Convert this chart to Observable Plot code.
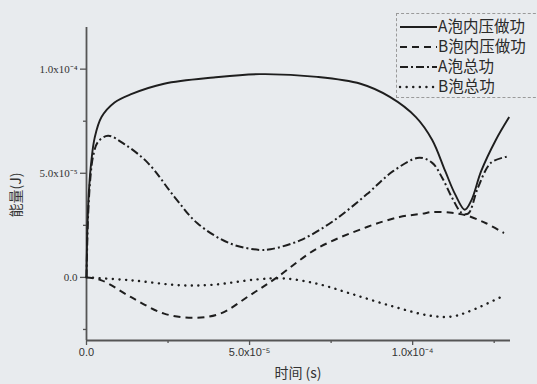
<!DOCTYPE html>
<html>
<head>
<meta charset="utf-8">
<script src="https://cdn.jsdelivr.net/npm/d3@7"></script>
<script src="https://cdn.jsdelivr.net/npm/@observablehq/plot@0.6"></script>
<style>
  html, body { margin: 0; padding: 0; background: #e8ebee; }
  #wrap { position: relative; width: 537px; height: 384px; overflow: hidden; }
  .lbl { position: absolute; font-family: "Noto Sans CJK SC", "Liberation Sans", sans-serif; color: #333; white-space: nowrap; }
  #legend { position: absolute; left: 396px; top: 13px; width: 150px; height: 85px; border: 1px dashed #9a9a9a; box-sizing: border-box; }
</style>
</head>
<body>
<div id="wrap"></div>
<script>
// time in units of 1e-6 s, energy in units of 1e-6 J
const seriesNames = ["A泡内压做功", "B泡内压做功", "A泡总功", "B泡总功"];

const tA_press = [0, 0.3, 0.8, 1.5, 2.5, 4.6, 8.6, 13.7, 23.8, 39, 53, 70.7, 84, 93, 101, 106, 110, 113, 116, 118, 121, 125.5, 129.6];
const vA_press = [0, 25, 43, 56, 67, 77, 84, 88, 93, 96, 97.6, 96.3, 93, 86.7, 77, 66, 51, 40, 32.5, 37, 51, 66, 77];

const tB_press = [0, 4.6, 13.7, 23.8, 33, 41, 50, 58.4, 70.6, 86, 96, 103, 106, 112, 116.4, 122.5, 128];
const vB_press = [0, -1.4, -9.5, -17.4, -19.4, -17.4, -8.7, 0, 13.8, 24.2, 29, 30.6, 31.4, 31, 29.8, 26, 21.3];

const tA_total = [0, 0.5, 1.2, 2, 3.5, 6.6, 11.6, 18.8, 27, 34, 44, 53, 56.4, 65.5, 75.6, 86, 94, 102, 106, 109, 112, 115, 117, 120, 124, 129];
const vA_total = [0, 30, 48, 58, 65, 68, 64, 55, 38.6, 26, 16.3, 13.2, 13.5, 17.8, 27, 40, 51, 57.5, 55, 48, 38.5, 31, 30.6, 43, 55, 58];

const tB_total = [0, 13.7, 29, 39, 52, 60.5, 70.6, 81, 93, 105, 112, 118, 127.5];
const vB_total = [0, -1.4, -3.8, -3.5, -1, -0.5, -3, -7.8, -13.5, -18.3, -18.8, -15.9, -9.1];

const xTicks = [0, 5e-5, 1e-4];
const xTickLabels = ["0.0", "5.0x10⁻⁵", "1.0x10⁻⁴"];
const xMinor = [2.5e-5, 7.5e-5, 1.25e-4];
const yTicks = [0, 5e-5, 1e-4];
const yTickLabels = ["0.0", "5.0x10⁻⁵", "1.0x10⁻⁴"];
const yMinor = [-2.5e-5, 2.5e-5, 7.5e-5];
const xDomain = [0, 1.3e-4];
const yDomain = [-3.03e-5, 1.2e-4];
const xLabel = "时间 (s)";
const yLabel = "能量(J)";

const dashes = ["none", "7,5", "8,3,2,3", "0.1,6.5"];
const widths = [1.9, 2, 2, 2.4];
const caps = ["butt", "butt", "butt", "round"];

function toRows(ts, vs, s) { return ts.map((t, i) => ({ t: t * 1e-6, v: vs[i] * 1e-6, s })); }
const data = [
  toRows(tA_press, vA_press, seriesNames[0]),
  toRows(tB_press, vB_press, seriesNames[1]),
  toRows(tA_total, vA_total, seriesNames[2]),
  toRows(tB_total, vB_total, seriesNames[3])
];

const lineMarks = data.map((rows, i) => Plot.line(rows, {
  x: "t", y: "v", stroke: "#1e1e1e", strokeWidth: widths[i],
  strokeDasharray: dashes[i], strokeLinecap: caps[i],
  curve: "catmull-rom"
}));

const chart = Plot.plot({
  width: 537, height: 384,
  marginLeft: 86, marginRight: 27, marginTop: 27, marginBottom: 44,
  style: { background: "transparent", color: "#333" },
  x: { domain: xDomain },
  y: { domain: yDomain },
  marks: [
    Plot.axisX(xTicks, { tickFormat: d => xTickLabels[xTicks.indexOf(d)], tickSize: 5, tickPadding: 3, fontSize: 11, fontFamily: "Liberation Sans, Arial, sans-serif", label: null, stroke: "#555", strokeWidth: 1.3 }),
    Plot.axisX(xMinor, { tickFormat: () => "", tickSize: 3, label: null, stroke: "#555", strokeWidth: 1.3 }),
    Plot.axisY(yTicks, { tickFormat: d => yTickLabels[yTicks.indexOf(d)], tickSize: 6, tickPadding: 3, fontSize: 11, fontFamily: "Liberation Serif, Times New Roman, serif", label: null, stroke: "#555", strokeWidth: 1.3 }),
    Plot.axisY(yMinor, { tickFormat: () => "", tickSize: 3, label: null, stroke: "#555", strokeWidth: 1.3 }),
    Plot.ruleX([xDomain[0]], { y1: yDomain[0], y2: yDomain[1], stroke: "#555", strokeWidth: 1.8 }),
    Plot.ruleY([yDomain[0]], { x1: xDomain[0], x2: xDomain[1], stroke: "#555", strokeWidth: 1.8 }),
    ...lineMarks
  ]
});
const wrap = document.getElementById("wrap");
wrap.appendChild(chart);

// axis titles
const xl = document.createElement("div");
xl.className = "lbl"; xl.textContent = xLabel;
xl.style.cssText = "left:298px; top:362px; transform:translateX(-50%); font-size:14px;";
wrap.appendChild(xl);
const yl = document.createElement("div");
yl.className = "lbl"; yl.textContent = yLabel;
yl.style.cssText = "left:15px; top:195px; transform:translate(-50%,-50%) rotate(-90deg); font-size:14px;";
wrap.appendChild(yl);

// legend
const leg = document.createElement("div");
leg.id = "legend";
const ns = "http://www.w3.org/2000/svg";
const lsvg = document.createElementNS(ns, "svg");
lsvg.setAttribute("width", 150); lsvg.setAttribute("height", 85);
lsvg.style.position = "absolute"; lsvg.style.left = "-1px"; lsvg.style.top = "-1px";
seriesNames.forEach((name, i) => {
  const y = 14 + i * 20;
  const ln = document.createElementNS(ns, "line");
  ln.setAttribute("x1", 4); ln.setAttribute("x2", 41);
  ln.setAttribute("y1", y); ln.setAttribute("y2", y);
  ln.setAttribute("stroke", "#1e1e1e"); ln.setAttribute("stroke-width", widths[i]);
  if (dashes[i] !== "none") ln.setAttribute("stroke-dasharray", dashes[i]);
  ln.setAttribute("stroke-linecap", caps[i]);
  lsvg.appendChild(ln);
  const tx = document.createElementNS(ns, "text");
  tx.setAttribute("x", 42); tx.setAttribute("y", y);
  tx.setAttribute("dy", "0.35em");
  tx.setAttribute("font-size", 15.5);
  tx.setAttribute("font-family", "Noto Sans CJK SC, sans-serif");
  tx.setAttribute("fill", "#2a2a2a");
  tx.textContent = name;
  lsvg.appendChild(tx);
});
leg.appendChild(lsvg);
wrap.appendChild(leg);
</script>
</body>
</html>
